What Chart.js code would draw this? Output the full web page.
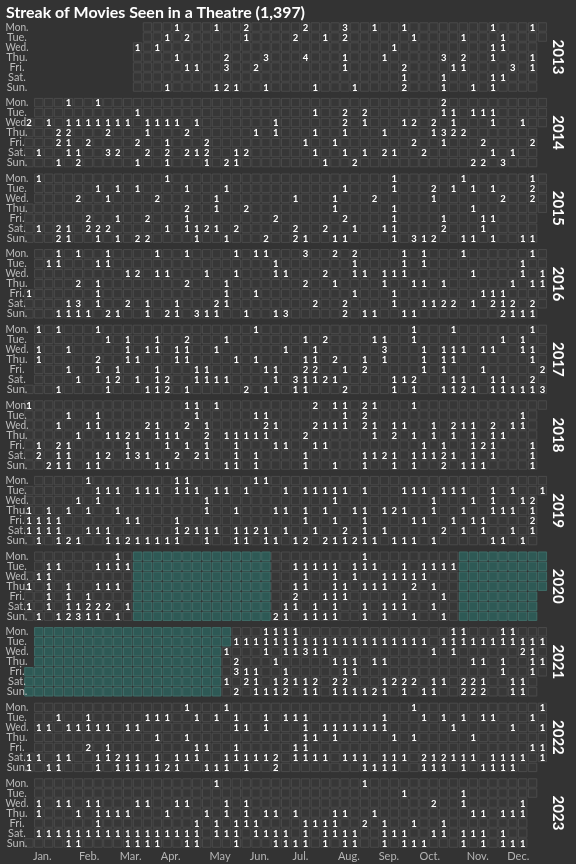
<!DOCTYPE html>
<html>
<head>
<meta charset="utf-8">
<script src="https://cdn.jsdelivr.net/npm/chart.js@4.4.0/dist/chart.umd.min.js"></script>
<style>
html,body{margin:0;padding:0;background:#333333;}
#wrap{width:576px;height:864px;}
</style>
</head>
<body>
<div id="wrap"><canvas id="c" width="576" height="864"></canvas></div>
<script>
// ---------- data ----------
const chartTitle = 'Streak of Movies Seen in a Theatre (1,397)';
const years = [2013, 2014, 2015, 2016, 2017, 2018, 2019, 2020, 2021, 2022, 2023];
const dayLabels = ['Mon.', 'Tue.', 'Wed.', 'Thu.', 'Fri.', 'Sat.', 'Sun.'];
const monthLabels = ['Jan.', 'Feb.', 'Mar.', 'Apr.', 'May', 'Jun.', 'Jul.', 'Aug.', 'Sep.', 'Oct.', 'Nov.', 'Dec.'];
const monthTickWeeks = [1.35, 6.1, 10.3, 14.35, 19.35, 23.35, 27.5, 32.4, 36.45, 40.6, 45.45, 49.55];
const streakStart = '2013-03-20';
const streakEnd = '2023-12-19';
const closures = [['2020-03-16', '2020-06-21'], ['2020-11-02', '2021-05-18']];

// movies per day: one string per weekday (Mon..Sun); "week" = 1 movie, "week:n" = n movies, "a-b" = 1 movie each week a..b
const movies2013 = [
  '15 19 22:2 28:2 32:3 35 38 47 51',
  '14 16:2 22 27:2 30 32:2 39 44 48',
  '11 13 37 47 48',
  '15 20:2 24:3 28:4 32 36 42:3 44:2 47 51',
  '16 17 20:3 23:2 32 38:2 43 44 49:3 51',
  '38 42 47 48',
  '14 19 20:2 21 24 29 33 38:2 42 45 47'
];
const movies2014 = [
  '4 7 42:2',
  '11 29 32:2 34:2 42 43 45 46 47',
  '0:2 2 4-10 12-15 17 25 32:2 34 38 39:2 41:2 43 47 50',
  '3:2 4:2 8:2 12 16:2 23 25 29 32 36 41 42:3 43:2 44:2',
  '3:2 4 6:2 11:2 14 18:2 28 31 39:2 42 46:2 51:2',
  '1 4 5 8:3 9:2 12:2 14:2 16:2 17 18:2 21 22:2 29 32 34 36:2 37 40:2 47 49',
  '3 5:2 11 14 18 20:2 21 30 33:2 45:2 46:2 48:3'
];
const movies2015 = [
  '1 14 37 44 51',
  '7 9 11 16 20 32 37 41:2 43 45 47 51:2',
  '5:2 8 13:2 19 27 31 35:2 41 48:2 51:2',
  '16:2 19 22:2 31 37 45',
  '6:2 9 12:2 16 25:2 32:2 37 42 46 47',
  '1 3:2 4 6:2 7:2 8:2 14 16 17 18:2 19 21:2 27:2 30:2 33 36 37 42:2 46',
  '3:2 4 7 9 11:2 12:2 17 20 24:2 27:2 28 31 32 37 39:3 40 41:2 44 45 47 50 51'
];
const movies2016 = [
  '3 5 8 13 16 21 23 24 28:3 31:2 33:2 38 40 44 51',
  '2 3 7 8 25 33 38 40 50',
  '10 11:2 13 14 18 21 25 26 30:2 33 34 36 37 38 45 50 52',
  '5:2 7 16:2 20 28:2 31 36 39 40 42 49 51 52',
  '0 7 20 23 33 37 46 47 48',
  '4 5:3 7 10:2 12 15 19:2 20 29:2 32:2 37 40 41 42:2 43:2 45 47:2 48 49:2 51:2',
  '3 4 5 6 8:2 9 12 14:2 15 17:3 18 19 22 25 26:3 32:2 34 35 38 39 48:2 49 50 51'
];
const movies2017 = [
  '1 3 7 23 39 43 51',
  '8 10 13 16:2 20 28 30:2 35 36 39 48 50',
  '1 4 10 12 13 15 16 19 26 29 36:3 40 42 43 44 46 47 50 51',
  '1 7:2 10 11 15 16 21 23 28 29 31:2 34 36 40 42 43 51',
  '4 7 9 13 17 18 24 25 28:2 29:2 32 34:2 40 42 46 52:2',
  '5 8 9:2 11 13 14:2 17 18 19 20 25 27:3 28 29 30:2 31 37 38 39:2 43 44 47 48 51:2',
  '3 8 12 13 14:2 16 22:2 24 27 28 32:2 37 39 42 43 44:2 45 47 48 49 50 51 52:3'
];
const movies2018 = [
  '0 16 17 19 29:2 31 32 34:2 35 39',
  '4 7 17 23 24 32 34:2 50',
  '3 6 7 12:2 13 16:2 18 24:2 25 29:2 30 31 32 34:2 35 37 38 41 43:2 44 45 47:2 49 50',
  '5 8 9 10:2 11 13 14 15 18:2 20 21 22 23 24 28:2 35 37:2 39 41 43 45 47 48',
  '1 3:2 4 10 14 16 18 21 25 26 29 30 40 42 45 46:2 47 51',
  '1:2 3 4 7 8:2 10 11:3 12 15:2 17:2 18 21 23 28 34 35 36:2 37 39 40 41 42:2 43 45 47 51',
  '2:2 3 4 6 7 13 14 20 21 23 28 31 34 37 39 42:2 44 45 46 51'
];
const movies2019 = [
  '6 15 16 23 24',
  '7 8 9 11 12 13 15 16 17 19 20 22 26 28-32 34 38 39 40 42 43 44 47 49 52',
  '5 7 18 31 41 45 47 50 51:2',
  '0 2 4 6 9 18 21 25 26 28 30 33 34 36 37:2 38 41 44 47 48 49 51',
  '0 1 2 3 10 11 15 28 31 34 39 40 43 45 46 51:2',
  '0 1 2 3 6 7 8 15 16:2 17 18 19 21 22 23:2 24 26 29 32:2 34 36 42:2 44 46 49 51',
  '1 3 4:2 5 8 9 10:2 11 12 13 14 15 18 21 22 24 25 27 28:2 30:2 31 32 33:2 34 35 37 38 39 41 47 48 50'
];
const movies2020 = [
  '9 34',
  '2 3 7 8 9 10 27-31 33 34 35 38 40 41 42 43',
  '1 2 28 31 33 36-40',
  '0 2 4 7 8 9 27 28 31 32 34 35 36 39:2 41',
  '2 4 6 27:2 30 31 32 38 42',
  '0 2 4 5 6:2 7:2 8:2 10 26 27 29 31 34 36 37 38 41',
  '1 3 4:2 5:3 6 7 9 25:2 26 28 29 30 31 34 36 39 42'
];
const movies2021 = [
  '24-27 43 44 48 49',
  '21-40 42-52',
  '20 24 26 27 28:3 29 30 41 43 50:2 51',
  '21:2 25 31 32 33 35 36 45 46 48 51 52',
  '21:3 22 23 26 32 33 48 51',
  '20 22:2 23 25 26:2 27 28 29:2 31:2 32:2 36 37:2 38:2 39:2 41 42 44:2 45:2 46 49 50',
  '21:2 23 24 25 26:2 28 29 31 32 33 34 35:2 36 38 40 41 44:2 45:2 46:2 49 50'
];
const movies2022 = [
  '16 20 39 52',
  '3 6 12 13 14 17 19 21 24 26 27 28 36 40 42 44 46 47 51',
  '1 2 4-8 10 11 21 22 24 28 30-36 43 49 52',
  '13 16 28 29 31 37 39 45',
  '6:2 8 17 18 21 27 28 51 52',
  '0 1 3 4 7 8 9:2 10 11 13 15 16 17 20-24 25:2 27-30 32 33 34 36 37 38 40:2 41 42:2 43 44 45 47-50 52',
  '0 2 3 7 9-13 14:2 15 18 19 20 22 25:2 34-37 40 41 42 44 46-49'
];
const movies2023 = [
  '19 34',
  '38 44',
  '1 3 4 6 7 11 12 15 16 20 22 41:2 44 50',
  '1 5 7-10 14 18 20 22 24 25 27 31 32 35 45 46 48 49 50',
  '7 17 19 21 22 23 28-31 34:2 36 39 42',
  '1-17 19 20 21 23-26 28 30-33 36 37 38 41 42 44 45 46 48',
  '4 5 10-13 16 17 21 25-28 30 32 33 36 38 39 40 44 46 48 49 50'
];
const moviesByYear = [movies2013, movies2014, movies2015, movies2016, movies2017, movies2018,
  movies2019, movies2020, movies2021, movies2022, movies2023];

// ---------- build ----------
const yearStep = 7.56;
const rowValue = (yi, wd) => yi * yearStep + wd;

const counts = {};
moviesByYear.forEach((rows, yi) => {
  rows.forEach((s, wd) => {
    s.trim().split(/\s+/).forEach(tok => {
      if (!tok) return;
      let [wk, n] = tok.split(':');
      n = n ? +n : 1;
      if (wk.includes('-')) {
        const [a, b] = wk.split('-').map(Number);
        for (let w = a; w <= b; w++) counts[yi + '|' + wd + '|' + w] = n;
      } else {
        counts[yi + '|' + wd + '|' + (+wk)] = n;
      }
    });
  });
});

function parseUTC(s) { const [y, m, d] = s.split('-').map(Number); return Date.UTC(y, m - 1, d); }
const DAY = 86400000;
const openCells = [], closedCells = [], labelCells = [];
const closureMs = closures.map(([a, b]) => [parseUTC(a), parseUTC(b)]);
for (let t = parseUTC(streakStart); t <= parseUTC(streakEnd); t += DAY) {
  const d = new Date(t);
  const Y = d.getUTCFullYear();
  const jan1 = Date.UTC(Y, 0, 1);
  const doy = Math.round((t - jan1) / DAY);
  const jan1wd = (new Date(jan1).getUTCDay() + 6) % 7;
  const wd = (d.getUTCDay() + 6) % 7;
  const week = Math.floor((doy + jan1wd) / 7);
  const yi = Y - years[0];
  const pt = { x: week, y: rowValue(yi, wd) };
  const closed = closureMs.some(([a, b]) => t >= a && t <= b);
  (closed ? closedCells : openCells).push(pt);
  const n = counts[yi + '|' + wd + '|' + week];
  if (n) labelCells.push({ x: week, y: rowValue(yi, wd), n });
}

// ---------- text plugin ----------
const textPlugin = {
  id: 'texts',
  beforeDraw(chart) {
    const c = chart.ctx;
    c.save();
    c.fillStyle = '#333333';
    c.fillRect(0, 0, chart.width, chart.height);
    c.restore();
  },
  afterDatasetsDraw(chart) {
    const c = chart.ctx, xs = chart.scales.x, ys = chart.scales.y;
    c.save();
    // title
    c.fillStyle = '#ffffff';
    c.font = 'bold 16px Lato';
    c.textAlign = 'left';
    c.textBaseline = 'alphabetic';
    const tw = c.measureText(chartTitle).width;
    c.save();
    c.translate(6, 17.5);
    c.scale(Math.min(1, 299 / tw), 1);
    c.fillText(chartTitle, 0, 0);
    c.restore();

    // weekday labels and year labels
    years.forEach((yr, yi) => {
      c.fillStyle = '#bdbdbd';
      c.font = '11px Lato';
      c.textAlign = 'center';
      c.textBaseline = 'middle';
      dayLabels.forEach((lab, wd) => {
        const py = ys.getPixelForValue(rowValue(yi, wd));
        const w = c.measureText(lab).width;
        c.save();
        c.translate(17, py);
        c.scale(Math.min(1, 23 / w), 1);
        c.fillText(lab, 0, 0);
        c.restore();
      });
      const midY = (ys.getPixelForValue(rowValue(yi, 0)) + ys.getPixelForValue(rowValue(yi, 6))) / 2;
      c.save();
      c.translate(xs.right + 10, midY);
      c.rotate(Math.PI / 2);
      c.fillStyle = '#ffffff';
      c.font = 'bold 15px Lato';
      c.textAlign = 'center';
      c.textBaseline = 'middle';
      c.fillText(String(yr), 0, 0);
      c.restore();
    });

    // counts in cells
    c.fillStyle = '#ffffff';
    c.font = 'bold 9.5px Lato';
    c.textAlign = 'center';
    c.textBaseline = 'middle';
    labelCells.forEach(p => {
      c.fillText(String(p.n), xs.getPixelForValue(p.x), ys.getPixelForValue(p.y) + 0.5);
    });
    c.restore();
  }
};

const cellRadius = 5.95;
new Chart(document.getElementById('c'), {
  type: 'scatter',
  data: {
    datasets: [
      { label: 'days', data: openCells, pointStyle: 'rect', pointRadius: cellRadius, pointHoverRadius: cellRadius,
        backgroundColor: '#373737', borderColor: '#4a4a4a', borderWidth: 1 },
      { label: 'theatres closed', data: closedCells, pointStyle: 'rect', pointRadius: cellRadius, pointHoverRadius: cellRadius,
        backgroundColor: '#2e5955', borderColor: '#3f6d68', borderWidth: 1 }
    ]
  },
  options: {
    responsive: false,
    animation: false,
    events: [],
    layout: { padding: { left: 24, right: 28.6, top: 22, bottom: 0 } },
    plugins: { legend: { display: false }, tooltip: { enabled: false }, title: { display: false } },
    scales: {
      x: {
        type: 'linear', min: -0.5, max: 52.5, position: 'bottom',
        grid: { display: false, drawTicks: false }, border: { display: false },
        afterBuildTicks: s => { s.ticks = monthTickWeeks.map(v => ({ value: v })); },
        afterFit: s => { s.height = 16; },
        ticks: { autoSkip: false, maxRotation: 0, minRotation: 0, padding: 2, color: '#b5b5b5',
          font: { family: 'Lato', size: 11 }, callback: (v, i) => monthLabels[i] }
      },
      y: { type: 'linear', min: -0.5, max: 82.1, reverse: true, display: false }
    }
  },
  plugins: [textPlugin]
});
</script>
</body>
</html>
